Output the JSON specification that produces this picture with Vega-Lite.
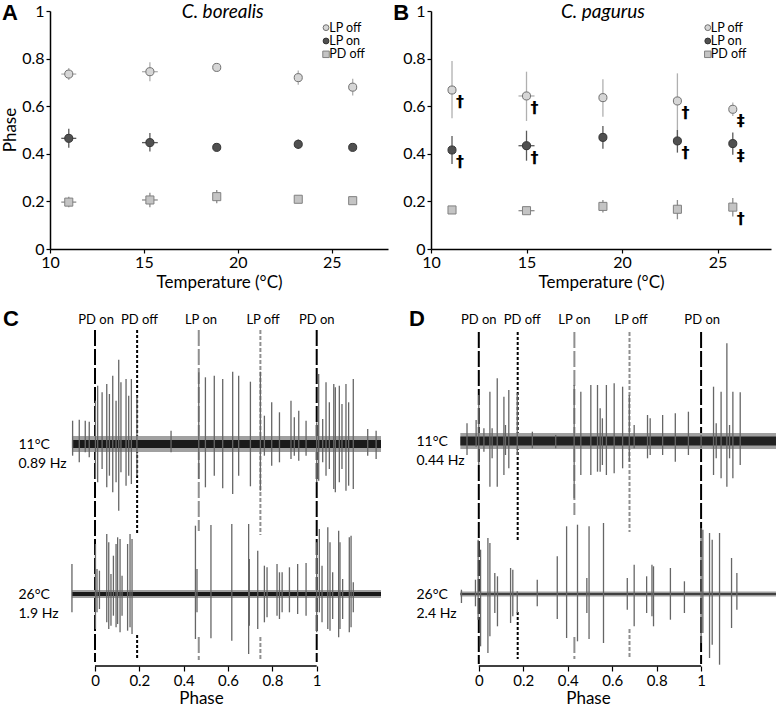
{
  "$schema": "https://vega.github.io/schema/vega-lite/v6.json",
  "padding": {"left": 1, "top": 1, "right": 0, "bottom": 0},
  "bounds": "flush",
  "align": "none",
  "spacing": 319,
  "resolve": {"scale": {"strokeDash": "independent"}},
  "config": {
    "view": {"stroke": null},
    "font": "Lato",
    "axis": {"grid": false, "domainColor": "#000", "tickColor": "#000", "labelColor": "#000", "titleColor": "#000", "labelFont": "Lato", "titleFont": "Lato", "titleFontWeight": "normal", "labelFlush": false, "domainWidth": 1.5, "tickWidth": 1.2}
  },
  "vconcat": [
    {
      "spacing": 43,
      "bounds": "flush",
      "align": "none",
      "hconcat": [
        {
          "width": 338, "height": 238,
          "data": {"values": [
            {"series": "LP off", "t": 11.0, "v": 0.735, "vlo": 0.71, "vhi": 0.76, "tlo": 10.6, "thi": 11.4},
            {"series": "LP off", "t": 15.32, "v": 0.745, "vlo": 0.705, "vhi": 0.785, "tlo": 14.9, "thi": 15.74},
            {"series": "LP off", "t": 18.88, "v": 0.763, "vlo": 0.755, "vhi": 0.771, "tlo": 18.88, "thi": 18.88},
            {"series": "LP off", "t": 23.22, "v": 0.72, "vlo": 0.69, "vhi": 0.75, "tlo": 23.22, "thi": 23.22},
            {"series": "LP off", "t": 26.12, "v": 0.68, "vlo": 0.645, "vhi": 0.715, "tlo": 26.12, "thi": 26.12},
            {"series": "LP on", "t": 11.0, "v": 0.465, "vlo": 0.425, "vhi": 0.505, "tlo": 10.6, "thi": 11.4},
            {"series": "LP on", "t": 15.32, "v": 0.447, "vlo": 0.41, "vhi": 0.487, "tlo": 14.9, "thi": 15.74},
            {"series": "LP on", "t": 18.88, "v": 0.427, "vlo": 0.42, "vhi": 0.434, "tlo": 18.88, "thi": 18.88},
            {"series": "LP on", "t": 23.22, "v": 0.44, "vlo": 0.42, "vhi": 0.46, "tlo": 23.22, "thi": 23.22},
            {"series": "LP on", "t": 26.12, "v": 0.427, "vlo": 0.42, "vhi": 0.434, "tlo": 26.12, "thi": 26.12},
            {"series": "PD off", "t": 11.0, "v": 0.197, "vlo": 0.175, "vhi": 0.22, "tlo": 10.6, "thi": 11.4},
            {"series": "PD off", "t": 15.32, "v": 0.206, "vlo": 0.175, "vhi": 0.236, "tlo": 14.9, "thi": 15.74},
            {"series": "PD off", "t": 18.88, "v": 0.22, "vlo": 0.192, "vhi": 0.248, "tlo": 18.88, "thi": 18.88},
            {"series": "PD off", "t": 23.22, "v": 0.209, "vlo": 0.205, "vhi": 0.213, "tlo": 23.22, "thi": 23.22},
            {"series": "PD off", "t": 26.12, "v": 0.203, "vlo": 0.2, "vhi": 0.206, "tlo": 26.12, "thi": 26.12}
          ]},
          "layer": [
            {
              "mark": {"type": "rule", "strokeWidth": 1.3},
              "encoding": {
                "x": {"field": "t", "type": "quantitative", "scale": {"domain": [10, 28], "nice": false, "zero": false},
                      "axis": {"values": [10, 15, 20, 25], "title": "Temperature (°C)", "labelFontSize": 16, "titleFontSize": 17, "tickSize": 4, "labelPadding": 1, "titlePadding": 4}},
                "y": {"field": "vlo", "type": "quantitative", "scale": {"domain": [0, 1], "nice": false},
                      "axis": {"values": [0, 0.2, 0.4, 0.6, 0.8, 1], "format": "~g", "title": null, "labelFontSize": 16, "tickSize": 4, "labelPadding": 2}},
                "y2": {"field": "vhi"},
                "color": {"field": "series", "type": "nominal", "scale": {"domain": ["LP off", "LP on", "PD off"], "range": ["#b0b0b0", "#5a5a5a", "#8c8c8c"]}, "legend": null}
              }
            },
            {
              "mark": {"type": "rule", "strokeWidth": 1.3},
              "encoding": {
                "x": {"field": "tlo", "type": "quantitative", "title": "Temperature (°C)"},
                "x2": {"field": "thi"},
                "y": {"field": "v", "type": "quantitative", "title": null},
                "color": {"field": "series", "type": "nominal", "legend": null}
              }
            },
            {
              "mark": {"type": "point", "filled": true, "size": 65, "strokeWidth": 1, "opacity": 1},
              "encoding": {
                "x": {"field": "t", "type": "quantitative", "title": "Temperature (°C)"},
                "y": {"field": "v", "type": "quantitative", "title": null},
                "shape": {"field": "series", "type": "nominal", "scale": {"domain": ["LP off", "LP on", "PD off"], "range": ["circle", "circle", "square"]}, "legend": null},
                "fill": {"field": "series", "type": "nominal", "scale": {"domain": ["LP off", "LP on", "PD off"], "range": ["#d6d6d6", "#505050", "#c4c4c4"]}, "legend": null},
                "stroke": {"field": "series", "type": "nominal", "scale": {"domain": ["LP off", "LP on", "PD off"], "range": ["#707070", "#333333", "#808080"]}, "legend": null}
              }
            },
            {"data": {"values": [{}]}, "mark": {"type": "point", "shape": "circle", "filled": true, "size": 34, "fill": "#d6d6d6", "stroke": "#707070", "strokeWidth": 1, "opacity": 1},
             "encoding": {"x": {"datum": 24.7, "type": "quantitative", "title": "Temperature (°C)"}, "y": {"datum": 0.93, "type": "quantitative", "title": null}}},
            {"data": {"values": [{}]}, "mark": {"type": "point", "shape": "circle", "filled": true, "size": 34, "fill": "#505050", "stroke": "#333333", "strokeWidth": 1, "opacity": 1},
             "encoding": {"x": {"datum": 24.7, "type": "quantitative", "title": "Temperature (°C)"}, "y": {"datum": 0.874, "type": "quantitative", "title": null}}},
            {"data": {"values": [{}]}, "mark": {"type": "point", "shape": "square", "filled": true, "size": 42, "fill": "#c4c4c4", "stroke": "#808080", "strokeWidth": 1, "opacity": 1},
             "encoding": {"x": {"datum": 24.7, "type": "quantitative", "title": "Temperature (°C)"}, "y": {"datum": 0.818, "type": "quantitative", "title": null}}},
            {"data": {"values": [{}]}, "mark": {"type": "text", "text": "LP off", "align": "left", "baseline": "middle", "fontSize": 12.5, "font": "Lato"},
             "encoding": {"x": {"datum": 24.87, "type": "quantitative", "title": "Temperature (°C)"}, "y": {"datum": 0.93, "type": "quantitative", "title": null}}},
            {"data": {"values": [{}]}, "mark": {"type": "text", "text": "LP on", "align": "left", "baseline": "middle", "fontSize": 12.5, "font": "Lato"},
             "encoding": {"x": {"datum": 24.87, "type": "quantitative", "title": "Temperature (°C)"}, "y": {"datum": 0.874, "type": "quantitative", "title": null}}},
            {"data": {"values": [{}]}, "mark": {"type": "text", "text": "PD off", "align": "left", "baseline": "middle", "fontSize": 12.5, "font": "Lato"},
             "encoding": {"x": {"datum": 24.87, "type": "quantitative", "title": "Temperature (°C)"}, "y": {"datum": 0.818, "type": "quantitative", "title": null}}},
            {
              "data": {"values": [{}]},
              "mark": {"type": "text", "text": "Phase", "fontSize": 17, "angle": 270, "align": "center", "baseline": "middle", "font": "Lato"},
              "encoding": {"x": {"datum": 7.92, "type": "quantitative", "title": "Temperature (°C)"}, "y": {"datum": 0.5, "type": "quantitative", "title": null}}
            },
            {
              "data": {"values": [{}]},
              "mark": {"type": "text", "text": "C. borealis", "fontSize": 19, "fontStyle": "italic", "align": "center", "baseline": "middle", "font": "Lato"},
              "encoding": {"x": {"datum": 19.2, "type": "quantitative", "title": "Temperature (°C)"}, "y": {"datum": 0.995, "type": "quantitative", "title": null}}
            },
            {
              "data": {"values": [{}]},
              "mark": {"type": "text", "text": "A", "fontSize": 22, "fontWeight": "bold", "align": "left", "baseline": "top", "font": "Liberation Sans"},
              "encoding": {"x": {"datum": 7.44, "type": "quantitative", "title": "Temperature (°C)"}, "y": {"datum": 1.034, "type": "quantitative", "title": null}}
            }
          ]
        },
        {
          "width": 340, "height": 238,
          "data": {"values": [
            {"series": "LP off", "t": 11.1, "v": 0.668, "vlo": 0.549, "vhi": 0.79, "tlo": 11.1, "thi": 11.1, "sig": "†"},
            {"series": "LP off", "t": 15.0, "v": 0.643, "vlo": 0.538, "vhi": 0.745, "tlo": 14.58, "thi": 15.42, "sig": "†"},
            {"series": "LP off", "t": 19.0, "v": 0.636, "vlo": 0.556, "vhi": 0.713, "tlo": 19.0, "thi": 19.0, "sig": ""},
            {"series": "LP off", "t": 22.9, "v": 0.622, "vlo": 0.472, "vhi": 0.738, "tlo": 22.9, "thi": 22.9, "sig": "†"},
            {"series": "LP off", "t": 25.8, "v": 0.587, "vlo": 0.559, "vhi": 0.616, "tlo": 25.8, "thi": 25.8, "sig": "‡"},
            {"series": "LP on", "t": 11.1, "v": 0.416, "vlo": 0.357, "vhi": 0.475, "tlo": 11.1, "thi": 11.1, "sig": "†"},
            {"series": "LP on", "t": 15.0, "v": 0.434, "vlo": 0.371, "vhi": 0.497, "tlo": 14.58, "thi": 15.42, "sig": "†"},
            {"series": "LP on", "t": 19.0, "v": 0.469, "vlo": 0.421, "vhi": 0.517, "tlo": 19.0, "thi": 19.0, "sig": ""},
            {"series": "LP on", "t": 22.9, "v": 0.454, "vlo": 0.405, "vhi": 0.5, "tlo": 22.9, "thi": 22.9, "sig": "†"},
            {"series": "LP on", "t": 25.8, "v": 0.443, "vlo": 0.396, "vhi": 0.489, "tlo": 25.8, "thi": 25.8, "sig": "‡"},
            {"series": "PD off", "t": 11.1, "v": 0.164, "vlo": 0.147, "vhi": 0.18, "tlo": 11.1, "thi": 11.1, "sig": ""},
            {"series": "PD off", "t": 15.0, "v": 0.161, "vlo": 0.158, "vhi": 0.164, "tlo": 14.58, "thi": 15.42, "sig": ""},
            {"series": "PD off", "t": 19.0, "v": 0.179, "vlo": 0.153, "vhi": 0.206, "tlo": 19.0, "thi": 19.0, "sig": ""},
            {"series": "PD off", "t": 22.9, "v": 0.167, "vlo": 0.125, "vhi": 0.206, "tlo": 22.9, "thi": 22.9, "sig": ""},
            {"series": "PD off", "t": 25.8, "v": 0.176, "vlo": 0.137, "vhi": 0.214, "tlo": 25.8, "thi": 25.8, "sig": "†"}
          ]},
          "layer": [
            {
              "mark": {"type": "rule", "strokeWidth": 1.3},
              "encoding": {
                "x": {"field": "t", "type": "quantitative", "scale": {"domain": [10, 27.8], "nice": false, "zero": false},
                      "axis": {"values": [10, 15, 20, 25], "title": "Temperature (°C)", "labelFontSize": 16, "titleFontSize": 17, "tickSize": 4, "labelPadding": 1, "titlePadding": 4}},
                "y": {"field": "vlo", "type": "quantitative", "scale": {"domain": [0, 1], "nice": false},
                      "axis": {"values": [0, 0.2, 0.4, 0.6, 0.8, 1], "format": "~g", "title": null, "labelFontSize": 16, "tickSize": 4, "labelPadding": 2}},
                "y2": {"field": "vhi"},
                "color": {"field": "series", "type": "nominal", "scale": {"domain": ["LP off", "LP on", "PD off"], "range": ["#b0b0b0", "#5a5a5a", "#8c8c8c"]}, "legend": null}
              }
            },
            {
              "mark": {"type": "rule", "strokeWidth": 1.3},
              "encoding": {
                "x": {"field": "tlo", "type": "quantitative", "title": "Temperature (°C)"},
                "x2": {"field": "thi"},
                "y": {"field": "v", "type": "quantitative", "title": null},
                "color": {"field": "series", "type": "nominal", "legend": null}
              }
            },
            {
              "mark": {"type": "point", "filled": true, "size": 65, "strokeWidth": 1, "opacity": 1},
              "encoding": {
                "x": {"field": "t", "type": "quantitative", "title": "Temperature (°C)"},
                "y": {"field": "v", "type": "quantitative", "title": null},
                "shape": {"field": "series", "type": "nominal", "scale": {"domain": ["LP off", "LP on", "PD off"], "range": ["circle", "circle", "square"]}, "legend": null},
                "fill": {"field": "series", "type": "nominal", "scale": {"domain": ["LP off", "LP on", "PD off"], "range": ["#d6d6d6", "#505050", "#c4c4c4"]}, "legend": null},
                "stroke": {"field": "series", "type": "nominal", "scale": {"domain": ["LP off", "LP on", "PD off"], "range": ["#707070", "#333333", "#808080"]}, "legend": null}
              }
            },
            {
              "mark": {"type": "text", "dx": 8, "dy": 12, "fontSize": 16, "fontWeight": "bold", "font": "DejaVu Sans", "color": "#000"},
              "encoding": {
                "x": {"field": "t", "type": "quantitative", "title": "Temperature (°C)"},
                "y": {"field": "v", "type": "quantitative", "title": null},
                "text": {"field": "sig"}
              }
            },
            {"data": {"values": [{}]}, "mark": {"type": "point", "shape": "circle", "filled": true, "size": 34, "fill": "#d6d6d6", "stroke": "#707070", "strokeWidth": 1, "opacity": 1},
             "encoding": {"x": {"datum": 24.49, "type": "quantitative", "title": "Temperature (°C)"}, "y": {"datum": 0.93, "type": "quantitative", "title": null}}},
            {"data": {"values": [{}]}, "mark": {"type": "point", "shape": "circle", "filled": true, "size": 34, "fill": "#505050", "stroke": "#333333", "strokeWidth": 1, "opacity": 1},
             "encoding": {"x": {"datum": 24.49, "type": "quantitative", "title": "Temperature (°C)"}, "y": {"datum": 0.874, "type": "quantitative", "title": null}}},
            {"data": {"values": [{}]}, "mark": {"type": "point", "shape": "square", "filled": true, "size": 42, "fill": "#c4c4c4", "stroke": "#808080", "strokeWidth": 1, "opacity": 1},
             "encoding": {"x": {"datum": 24.49, "type": "quantitative", "title": "Temperature (°C)"}, "y": {"datum": 0.818, "type": "quantitative", "title": null}}},
            {"data": {"values": [{}]}, "mark": {"type": "text", "text": "LP off", "align": "left", "baseline": "middle", "fontSize": 12.5, "font": "Lato"},
             "encoding": {"x": {"datum": 24.65, "type": "quantitative", "title": "Temperature (°C)"}, "y": {"datum": 0.93, "type": "quantitative", "title": null}}},
            {"data": {"values": [{}]}, "mark": {"type": "text", "text": "LP on", "align": "left", "baseline": "middle", "fontSize": 12.5, "font": "Lato"},
             "encoding": {"x": {"datum": 24.65, "type": "quantitative", "title": "Temperature (°C)"}, "y": {"datum": 0.874, "type": "quantitative", "title": null}}},
            {"data": {"values": [{}]}, "mark": {"type": "text", "text": "PD off", "align": "left", "baseline": "middle", "fontSize": 12.5, "font": "Lato"},
             "encoding": {"x": {"datum": 24.65, "type": "quantitative", "title": "Temperature (°C)"}, "y": {"datum": 0.818, "type": "quantitative", "title": null}}},
            {
              "data": {"values": [{}]},
              "mark": {"type": "text", "text": "C. pagurus", "fontSize": 19, "fontStyle": "italic", "align": "center", "baseline": "middle", "font": "Lato"},
              "encoding": {"x": {"datum": 19.0, "type": "quantitative", "title": "Temperature (°C)"}, "y": {"datum": 0.995, "type": "quantitative", "title": null}}
            },
            {
              "data": {"values": [{}]},
              "mark": {"type": "text", "text": "B", "fontSize": 22, "fontWeight": "bold", "align": "left", "baseline": "top", "font": "Liberation Sans"},
              "encoding": {"x": {"datum": 8.02, "type": "quantitative", "title": "Temperature (°C)"}, "y": {"datum": 1.034, "type": "quantitative", "title": null}}
            }
          ]
        }
      ]
    },
    {
      "spacing": 50,
      "bounds": "flush",
      "align": "none",
      "hconcat": [
        {
          "width": 331, "height": 336,
          "layer": [
            {
              "data": {"values": [
                {"kind": "PD on", "p": 0, "y1": 264, "y2": -68},
                {"kind": "PD off", "p": 0.19, "y1": 264, "y2": 60},
                {"kind": "PD off", "p": 0.19, "y1": -41, "y2": -66},
                {"kind": "PD on", "p": 1, "y1": 264, "y2": -68}
              ]},
              "mark": {"type": "rule", "strokeWidth": 2, "color": "#000"},
              "encoding": {
                "x": {"field": "p", "type": "quantitative", "scale": {"domain": [-0.203, 1.29], "nice": false, "zero": false},
                      "axis": {"values": [0, 0.2, 0.4, 0.6, 0.8, 1], "format": "~g", "domain": false, "tickSize": 5, "labelFontSize": 15, "labelPadding": 2, "title": "Phase", "titleFontSize": 17, "titlePadding": 2, "titleX": 151}},
                "y": {"field": "y1", "type": "quantitative", "scale": {"domain": [-72, 264], "nice": false, "zero": false},
                      "axis": {"values": [0, 150], "labelExpr": "datum.value > 100 ? ['11°C', '0.89 Hz'] : ['26°C', '1.9 Hz']", "domain": false, "ticks": false, "labelAlign": "left", "labelPadding": 32, "labelFontSize": 14, "labelLineHeight": 19, "title": null}},
                "y2": {"field": "y2"},
                "strokeDash": {"field": "kind", "type": "nominal", "scale": {"domain": ["PD on", "PD off", "LP on", "LP off"], "range": [[16, 3], [3, 2], [16, 3], [4, 2]]}, "legend": null}
              }
            },
            {
              "data": {"values": [
                {"kind": "LP on", "p": 0.468, "y1": 264, "y2": 63},
                {"kind": "LP on", "p": 0.468, "y1": -43, "y2": -66},
                {"kind": "LP off", "p": 0.746, "y1": 264, "y2": 59},
                {"kind": "LP off", "p": 0.746, "y1": -43, "y2": -66}
              ]},
              "mark": {"type": "rule", "strokeWidth": 2, "color": "#8f8f8f"},
              "encoding": {
                "x": {"field": "p", "type": "quantitative", "title": "Phase"},
                "y": {"field": "y1", "type": "quantitative", "title": null},
                "y2": {"field": "y2"},
                "strokeDash": {"field": "kind", "type": "nominal", "legend": null}
              }
            },
            {
              "data": {"values": [{"p1": -0.104, "p2": 1.29, "lo": 142, "hi": 158}, {"p1": -0.104, "p2": 1.29, "lo": -4, "hi": 4}]},
              "mark": {"type": "rect", "color": "#a0a0a0"},
              "encoding": {"x": {"field": "p1", "type": "quantitative", "title": "Phase"}, "x2": {"field": "p2"}, "y": {"field": "lo", "type": "quantitative", "title": null}, "y2": {"field": "hi"}}
            },
            {
              "data": {"values": [{"p1": -0.104, "p2": 1.29, "lo": 146, "hi": 154}, {"p1": -0.104, "p2": 1.29, "lo": -2, "hi": 2}]},
              "mark": {"type": "rect", "color": "#1a1a1a"},
              "encoding": {"x": {"field": "p1", "type": "quantitative", "title": "Phase"}, "x2": {"field": "p2"}, "y": {"field": "lo", "type": "quantitative", "title": null}, "y2": {"field": "hi"}}
            },
            {
              "data": {"values": [
                {"p": -0.101, "hi": 173.3, "lo": 138.3}, {"p": -0.071, "hi": 174.3, "lo": 131.7}, {"p": -0.044, "hi": 173.3, "lo": 141.7}, {"p": -0.026, "hi": 172.3, "lo": 136.7},
                {"p": 0.002, "hi": 193.3, "lo": 115}, {"p": 0.012, "hi": 208.3, "lo": 111.7}, {"p": 0.032, "hi": 201.7, "lo": 125}, {"p": 0.053, "hi": 210, "lo": 106.7},
                {"p": 0.065, "hi": 200, "lo": 118.3}, {"p": 0.08, "hi": 218.3, "lo": 101.7}, {"p": 0.095, "hi": 193.3, "lo": 111.7}, {"p": 0.107, "hi": 234.3, "lo": 83.3},
                {"p": 0.117, "hi": 211.7, "lo": 121.7}, {"p": 0.14, "hi": 215, "lo": 108.3}, {"p": 0.152, "hi": 198.3, "lo": 118.3}, {"p": 0.164, "hi": 215, "lo": 110},
                {"p": 0.189, "hi": 198.3, "lo": 118.3}, {"p": 0.343, "hi": 163.3, "lo": 141.7}, {"p": 0.468, "hi": 221.7, "lo": 115}, {"p": 0.498, "hi": 216.7, "lo": 106.7},
                {"p": 0.538, "hi": 218.3, "lo": 118.3}, {"p": 0.576, "hi": 215, "lo": 105.7}, {"p": 0.621, "hi": 222.3, "lo": 100}, {"p": 0.648, "hi": 218.3, "lo": 118.3},
                {"p": 0.701, "hi": 212.3, "lo": 107.7}, {"p": 0.746, "hi": 222.3, "lo": 103.3}, {"p": 0.764, "hi": 178.3, "lo": 138.3}, {"p": 0.797, "hi": 191.7, "lo": 128.3},
                {"p": 0.832, "hi": 181.7, "lo": 131.7}, {"p": 0.884, "hi": 193.3, "lo": 135}, {"p": 0.899, "hi": 176.7, "lo": 138.3}, {"p": 0.919, "hi": 183.3, "lo": 133.3},
                {"p": 0.952, "hi": 173.3, "lo": 138.3}, {"p": 1.0, "hi": 171.7, "lo": 111.7}, {"p": 1.009, "hi": 220, "lo": 113.3}, {"p": 1.027, "hi": 175, "lo": 131.7},
                {"p": 1.042, "hi": 211.7, "lo": 118.3}, {"p": 1.057, "hi": 191.7, "lo": 125}, {"p": 1.077, "hi": 210, "lo": 105}, {"p": 1.084, "hi": 206.7, "lo": 101.7},
                {"p": 1.102, "hi": 208.3, "lo": 111.7}, {"p": 1.114, "hi": 190, "lo": 125}, {"p": 1.132, "hi": 210, "lo": 103.3}, {"p": 1.144, "hi": 191.7, "lo": 108.3},
                {"p": 1.165, "hi": 215, "lo": 105}, {"p": 1.23, "hi": 165, "lo": 138.3}, {"p": 1.268, "hi": 163.3, "lo": 135},
                {"p": -0.104, "hi": 30, "lo": -18.3}, {"p": 0.002, "hi": 50, "lo": -35}, {"p": 0.009, "hi": 25, "lo": -18.3}, {"p": 0.02, "hi": 23.3, "lo": -15},
                {"p": 0.053, "hi": 60, "lo": -28.3}, {"p": 0.062, "hi": 51.7, "lo": -35}, {"p": 0.072, "hi": 20, "lo": -31.7}, {"p": 0.083, "hi": 38.3, "lo": -21.7},
                {"p": 0.095, "hi": 50, "lo": -33.3}, {"p": 0.102, "hi": 56.7, "lo": -30}, {"p": 0.113, "hi": 55, "lo": -38.3}, {"p": 0.122, "hi": 18.3, "lo": -21.7},
                {"p": 0.147, "hi": 50, "lo": -36.7}, {"p": 0.158, "hi": 60, "lo": -33.3}, {"p": 0.167, "hi": 55, "lo": -40}, {"p": 0.453, "hi": 68.3, "lo": -45},
                {"p": 0.46, "hi": 25, "lo": -18.3}, {"p": 0.523, "hi": 69, "lo": -44.3}, {"p": 0.617, "hi": 70, "lo": -46.7}, {"p": 0.693, "hi": 70, "lo": -60},
                {"p": 0.696, "hi": 35, "lo": -31.7}, {"p": 0.734, "hi": 43.3, "lo": -35}, {"p": 0.764, "hi": 28.3, "lo": -28.3}, {"p": 0.776, "hi": 26.7, "lo": -23.3},
                {"p": 0.821, "hi": 30, "lo": -21.7}, {"p": 0.832, "hi": 21.7, "lo": -25}, {"p": 0.844, "hi": 21.7, "lo": -18.3}, {"p": 0.877, "hi": 26.7, "lo": -18.3},
                {"p": 0.914, "hi": 30, "lo": -20}, {"p": 0.952, "hi": 31, "lo": -21.7}, {"p": 1.0, "hi": 51.7, "lo": -38.3}, {"p": 1.012, "hi": 65, "lo": -18.3},
                {"p": 1.024, "hi": 28.3, "lo": -28.3}, {"p": 1.05, "hi": 66.7, "lo": -35}, {"p": 1.06, "hi": 51.7, "lo": -36.7}, {"p": 1.072, "hi": 21.7, "lo": -25},
                {"p": 1.099, "hi": 63.3, "lo": -43.3}, {"p": 1.105, "hi": 51.7, "lo": -35}, {"p": 1.117, "hi": 15, "lo": -25}, {"p": 1.147, "hi": 56.7, "lo": -38.3},
                {"p": 1.155, "hi": 58.3, "lo": -33.3}, {"p": 1.165, "hi": 11.7, "lo": -18.3}
              ]},
              "mark": {"type": "rule", "strokeWidth": 1.3, "color": "#666666"},
              "encoding": {"x": {"field": "p", "type": "quantitative", "title": "Phase"}, "y": {"field": "lo", "type": "quantitative", "title": null}, "y2": {"field": "hi"}}
            },
            {
              "data": {"values": [{}]},
              "mark": {"type": "rule", "strokeWidth": 1.5, "color": "#000"},
              "encoding": {"x": {"datum": 0, "type": "quantitative", "title": "Phase"}, "x2": {"datum": 1}, "y": {"datum": -72, "type": "quantitative", "title": null}}
            },
            {
              "data": {"values": [{"lab": "PD on", "p": 0.005}, {"lab": "PD off", "p": 0.2}, {"lab": "LP on", "p": 0.478}, {"lab": "LP off", "p": 0.758}, {"lab": "PD on", "p": 1.0}]},
              "mark": {"type": "text", "fontSize": 13, "font": "Lato", "baseline": "middle", "color": "#000"},
              "encoding": {"x": {"field": "p", "type": "quantitative", "title": "Phase"}, "y": {"datum": 274, "type": "quantitative", "title": null}, "text": {"field": "lab"}}
            },
            {
              "data": {"values": [{}]},
              "mark": {"type": "text", "text": "C", "fontSize": 22, "fontWeight": "bold", "align": "left", "baseline": "top", "font": "Liberation Sans"},
              "encoding": {"x": {"datum": -0.415, "type": "quantitative", "title": "Phase"}, "y": {"datum": 285, "type": "quantitative", "title": null}}
            }
          ]
        },
        {
          "width": 345, "height": 336,
          "layer": [
            {
              "data": {"values": [
                {"kind": "PD on", "p": 0, "y1": 262, "y2": -70},
                {"kind": "PD off", "p": 0.175, "y1": 262, "y2": 54},
                {"kind": "PD off", "p": 0.175, "y1": -18, "y2": -65},
                {"kind": "PD on", "p": 1, "y1": 262, "y2": -70}
              ]},
              "mark": {"type": "rule", "strokeWidth": 2, "color": "#000"},
              "encoding": {
                "x": {"field": "p", "type": "quantitative", "scale": {"domain": [-0.215, 1.337], "nice": false, "zero": false},
                      "axis": {"values": [0, 0.2, 0.4, 0.6, 0.8, 1], "format": "~g", "domain": false, "tickSize": 5, "labelFontSize": 15, "labelPadding": 2, "title": "Phase", "titleFontSize": 17, "titlePadding": 2, "titleX": 157}},
                "y": {"field": "y1", "type": "quantitative", "scale": {"domain": [-72, 264], "nice": false, "zero": false},
                      "axis": {"values": [0, 153], "labelExpr": "datum.value > 100 ? ['11°C', '0.44 Hz'] : ['26°C', '2.4 Hz']", "domain": false, "ticks": false, "labelAlign": "left", "labelPadding": 15, "labelFontSize": 14, "labelLineHeight": 19, "title": null}},
                "y2": {"field": "y2"},
                "strokeDash": {"field": "kind", "type": "nominal", "scale": {"domain": ["PD on", "PD off", "LP on", "LP off"], "range": [[16, 3], [3, 2], [16, 3], [4, 2]]}, "legend": null}
              }
            },
            {
              "data": {"values": [
                {"kind": "LP on", "p": 0.43, "y1": 262, "y2": 79},
                {"kind": "LP on", "p": 0.43, "y1": -43, "y2": -65},
                {"kind": "LP off", "p": 0.678, "y1": 262, "y2": 62},
                {"kind": "LP off", "p": 0.678, "y1": -35, "y2": -65}
              ]},
              "mark": {"type": "rule", "strokeWidth": 2, "color": "#8f8f8f"},
              "encoding": {
                "x": {"field": "p", "type": "quantitative", "title": "Phase"},
                "y": {"field": "y1", "type": "quantitative", "title": null},
                "y2": {"field": "y2"},
                "strokeDash": {"field": "kind", "type": "nominal", "legend": null}
              }
            },
            {
              "data": {"values": [{"p1": -0.083, "p2": 1.337, "lo": 145, "hi": 161}, {"p1": -0.083, "p2": 1.337, "lo": -2.5, "hi": 2.5}]},
              "mark": {"type": "rect", "color": "#a0a0a0"},
              "encoding": {"x": {"field": "p1", "type": "quantitative", "title": "Phase"}, "x2": {"field": "p2"}, "y": {"field": "lo", "type": "quantitative", "title": null}, "y2": {"field": "hi"}}
            },
            {
              "data": {"values": [{"p1": -0.083, "p2": 1.337, "lo": 148.5, "hi": 157.5}, {"p1": -0.083, "p2": 1.337, "lo": -0.8, "hi": 0.8}]},
              "mark": {"type": "rect", "color": "#222222"},
              "encoding": {"x": {"field": "p1", "type": "quantitative", "title": "Phase"}, "x2": {"field": "p2"}, "y": {"field": "lo", "type": "quantitative", "title": null}, "y2": {"field": "hi"}}
            },
            {
              "data": {"values": [
                {"p": -0.053, "hi": 170.7, "lo": 139}, {"p": -0.012, "hi": 174, "lo": 147.3}, {"p": 0.0, "hi": 199, "lo": 129}, {"p": 0.023, "hi": 165.7, "lo": 142.3},
                {"p": 0.05, "hi": 202.3, "lo": 107.3}, {"p": 0.06, "hi": 165.7, "lo": 135.7}, {"p": 0.083, "hi": 215.7, "lo": 107.3}, {"p": 0.113, "hi": 197.3, "lo": 119},
                {"p": 0.12, "hi": 169, "lo": 139}, {"p": 0.135, "hi": 204, "lo": 125.7}, {"p": 0.173, "hi": 200.7, "lo": 139}, {"p": 0.241, "hi": 162.3, "lo": 145.7},
                {"p": 0.346, "hi": 159, "lo": 145.7}, {"p": 0.429, "hi": 209, "lo": 95.7}, {"p": 0.459, "hi": 202.3, "lo": 119}, {"p": 0.504, "hi": 209, "lo": 119},
                {"p": 0.534, "hi": 209, "lo": 122.3}, {"p": 0.546, "hi": 185.7, "lo": 122.3}, {"p": 0.556, "hi": 175.7, "lo": 129}, {"p": 0.574, "hi": 209, "lo": 119},
                {"p": 0.609, "hi": 210.7, "lo": 120.7}, {"p": 0.647, "hi": 207.3, "lo": 125.7}, {"p": 0.677, "hi": 199, "lo": 132.3}, {"p": 0.699, "hi": 169, "lo": 145.7},
                {"p": 0.759, "hi": 179, "lo": 135.7}, {"p": 0.771, "hi": 175.7, "lo": 139}, {"p": 0.827, "hi": 179, "lo": 139}, {"p": 0.884, "hi": 180.7, "lo": 132.3},
                {"p": 0.943, "hi": 182.3, "lo": 139}, {"p": 1.0, "hi": 159, "lo": 145.7}, {"p": 1.056, "hi": 207.3, "lo": 119}, {"p": 1.068, "hi": 170.7, "lo": 135.7},
                {"p": 1.09, "hi": 202.3, "lo": 115.7}, {"p": 1.116, "hi": 250.7, "lo": 107.3}, {"p": 1.128, "hi": 169, "lo": 135.7}, {"p": 1.143, "hi": 202.3, "lo": 115.7},
                {"p": 1.176, "hi": 201.7, "lo": 129},
                {"p": -0.078, "hi": 4.3, "lo": -9}, {"p": -0.015, "hi": 14.3, "lo": -12.3}, {"p": -0.003, "hi": 54.3, "lo": -25.7}, {"p": 0.008, "hi": 44.3, "lo": -52.3},
                {"p": 0.041, "hi": 56, "lo": -59}, {"p": 0.05, "hi": 51, "lo": -42.3}, {"p": 0.072, "hi": 21, "lo": -19}, {"p": 0.084, "hi": 17.7, "lo": -32.3},
                {"p": 0.143, "hi": 26, "lo": -29}, {"p": 0.153, "hi": 24.3, "lo": -22.3}, {"p": 0.173, "hi": 2.7, "lo": -19}, {"p": 0.263, "hi": 14.3, "lo": -12.3},
                {"p": 0.353, "hi": 37.7, "lo": -25}, {"p": 0.395, "hi": 67.7, "lo": -44}, {"p": 0.444, "hi": 69.3, "lo": -47.3}, {"p": 0.486, "hi": 16, "lo": -19},
                {"p": 0.496, "hi": 67.7, "lo": -45}, {"p": 0.561, "hi": 71, "lo": -49}, {"p": 0.668, "hi": 16, "lo": -15.7}, {"p": 0.699, "hi": 29.3, "lo": -32.3},
                {"p": 0.755, "hi": 17.7, "lo": -19}, {"p": 0.779, "hi": 29.3, "lo": -22.3}, {"p": 0.786, "hi": 27.7, "lo": -32.3}, {"p": 0.862, "hi": 26, "lo": -25.7},
                {"p": 0.925, "hi": 12.7, "lo": -19}, {"p": 1.0, "hi": 66, "lo": -49}, {"p": 1.008, "hi": 64.3, "lo": -39}, {"p": 1.038, "hi": 61, "lo": -64},
                {"p": 1.05, "hi": 54.3, "lo": -50.7}, {"p": 1.083, "hi": 61, "lo": -70.7}, {"p": 1.137, "hi": 36, "lo": -34}, {"p": 1.161, "hi": 21, "lo": -15.7}
              ]},
              "mark": {"type": "rule", "strokeWidth": 1.3, "color": "#666666"},
              "encoding": {"x": {"field": "p", "type": "quantitative", "title": "Phase"}, "y": {"field": "lo", "type": "quantitative", "title": null}, "y2": {"field": "hi"}}
            },
            {
              "data": {"values": [{}]},
              "mark": {"type": "rule", "strokeWidth": 1.5, "color": "#000"},
              "encoding": {"x": {"datum": 0, "type": "quantitative", "title": "Phase"}, "x2": {"datum": 1}, "y": {"datum": -72, "type": "quantitative", "title": null}}
            },
            {
              "data": {"values": [{"lab": "PD on", "p": 0.0}, {"lab": "PD off", "p": 0.195}, {"lab": "LP on", "p": 0.43}, {"lab": "LP off", "p": 0.685}, {"lab": "PD on", "p": 1.005}]},
              "mark": {"type": "text", "fontSize": 13, "font": "Lato", "baseline": "middle", "color": "#000"},
              "encoding": {"x": {"field": "p", "type": "quantitative", "title": "Phase"}, "y": {"datum": 274, "type": "quantitative", "title": null}, "text": {"field": "lab"}}
            },
            {
              "data": {"values": [{}]},
              "mark": {"type": "text", "text": "D", "fontSize": 22, "fontWeight": "bold", "align": "left", "baseline": "top", "font": "Liberation Sans"},
              "encoding": {"x": {"datum": -0.314, "type": "quantitative", "title": "Phase"}, "y": {"datum": 285, "type": "quantitative", "title": null}}
            }
          ]
        }
      ]
    }
  ]
}
